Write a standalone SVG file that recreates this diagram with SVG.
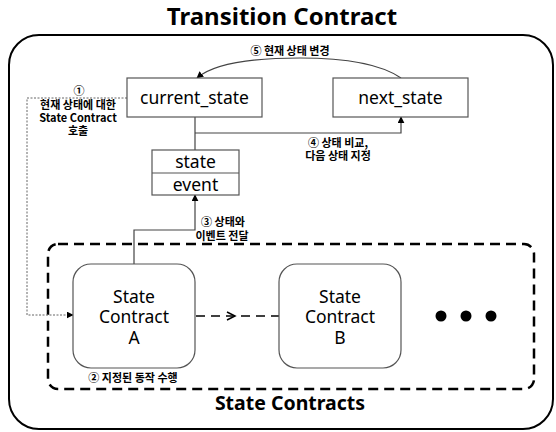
<svg xmlns="http://www.w3.org/2000/svg" width="556" height="432" viewBox="0 0 556 432">
<defs>
<marker id="ah" viewBox="0 0 10 10" refX="9" refY="5" markerWidth="7" markerHeight="7" orient="auto" markerUnits="userSpaceOnUse"><path d="M0,0 L10,5 L0,10 z" fill="#000"/></marker>
</defs>
<style>
text{font-family:"Noto Sans","Noto Sans CJK KR",sans-serif;fill:#000}
.box{fill:#fff;stroke:#555;stroke-width:1.2}
.bt{font-size:17.5px;text-anchor:middle}
.lbl{font-size:11px;font-weight:bold;text-anchor:middle;font-family:"Noto Sans CJK KR","Noto Sans",sans-serif}
.ln{fill:none;stroke:#444;stroke-width:1.2}
</style>
<rect width="556" height="432" fill="#fff"/>
<text x="282" y="25" font-size="24" font-weight="bold" text-anchor="middle">Transition Contract</text>
<rect id="outer" x="9" y="35" width="544" height="394" rx="30" fill="none" stroke="#000" stroke-width="2"/>
<rect id="contracts" x="48" y="244" width="486" height="145" rx="10" fill="none" stroke="#000" stroke-width="2.5" stroke-dasharray="10,6"/>
<text x="290" y="410" font-size="19.5" font-weight="bold" text-anchor="middle">State Contracts</text>

<g id="connectors">
<path class="ln" d="M401,78 Q372,58 300,58 Q220,58 197,78" marker-end="url(#ah)"/>
<path class="ln" d="M195,117 L195,150"/>
<path class="ln" d="M195,133 L401,133 L401,117" marker-end="url(#ah)"/>
<path class="ln" d="M134,264 L134,230 L195,230 L195,195" marker-end="url(#ah)"/>
<path fill="none" stroke="#666" stroke-width="1" stroke-dasharray="2,1.5" d="M127,98 L27,98 L27,315 L73,315" marker-end="url(#ah)"/>
<path fill="none" stroke="#000" stroke-width="1.5" stroke-dasharray="9,6" d="M196,316 L280,316"/>
<path fill="none" stroke="#000" stroke-width="1.5" d="M227,312 L235,316 L227,320"/>
</g>

<g id="current_state"><rect class="box" x="127" y="78" width="135" height="39"/><text class="bt" x="194.5" y="104">current_state</text></g>
<g id="next_state"><rect class="box" x="333" y="78" width="135" height="39"/><text class="bt" x="400.5" y="104">next_state</text></g>
<g id="state_event"><rect class="box" x="152" y="150" width="87" height="45"/><line x1="152" y1="173" x2="239" y2="173" stroke="#555" stroke-width="1.2"/><text class="bt" x="195.5" y="168">state</text><text class="bt" x="195.5" y="191">event</text></g>
<g id="contract_a"><rect class="box" x="73" y="264" width="122" height="104" rx="18"/><text class="bt" x="134" y="303">State</text><text class="bt" x="134" y="323">Contract</text><text class="bt" x="134" y="344">A</text></g>
<g id="contract_b"><rect class="box" x="279" y="264" width="122" height="104" rx="18"/><text class="bt" x="340" y="303">State</text><text class="bt" x="340" y="323">Contract</text><text class="bt" x="340" y="344">B</text></g>
<g id="dots"><circle cx="441" cy="316" r="5.5"/><circle cx="466" cy="316" r="5.5"/><circle cx="491" cy="316" r="5.5"/></g>

<g id="labels">
<text class="lbl" x="290" y="55">⑤ 현재 상태 변경</text>
<text class="lbl" x="79" y="95" font-size="10">①</text>
<text class="lbl" x="78" y="109"><tspan x="78">현재 상태에 대한</tspan><tspan x="78" y="122">State Contract</tspan><tspan x="78" y="135">호출</tspan></text>
<text class="lbl" x="338" y="147">④ 상태 비교,<tspan x="338" y="160">다음 상태 지정</tspan></text>
<text class="lbl" x="223" y="226">③ 상태와<tspan x="222" y="240">이벤트 전달</tspan></text>
<text class="lbl" x="133" y="382">② 지정된 동작 수행</text>
</g>
</svg>
